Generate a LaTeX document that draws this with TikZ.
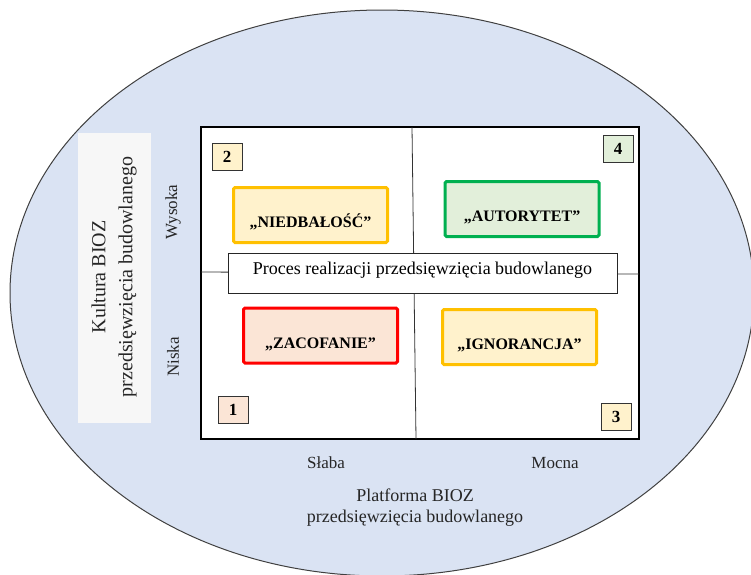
\documentclass[tikz,border=0pt]{standalone}
\usepackage{fontspec}
\setmainfont{Liberation Serif}
\usetikzlibrary{positioning}

\definecolor{ovalblue}{HTML}{DAE3F3}
\definecolor{warnline}{HTML}{FFC000}
\definecolor{warnfill}{HTML}{FFF2CC}
\definecolor{goodline}{HTML}{00B050}
\definecolor{goodfill}{HTML}{E2EFDA}
\definecolor{badline}{HTML}{FF0000}
\definecolor{badfill}{HTML}{FBE5D6}
\definecolor{sidegray}{HTML}{F7F7F7}

\tikzset{%
  % Specifications for style of nodes:
       quad/.style = {rectangle, rounded corners=1.5pt, line width=3pt,
                      minimum width=154pt, minimum height=55pt,
                      text height=25pt, text depth=0pt,
                      font=\fontsize{16}{18}\selectfont\bfseries},
   quadwarn/.style = {quad, draw=warnline, fill=warnfill},
   quadgood/.style = {quad, draw=goodline, fill=goodfill},
    quadbad/.style = {quad, draw=badline, fill=badfill},
     numbox/.style = {rectangle, draw=black!80, line width=0.8pt,
                      minimum width=30pt, minimum height=27pt, inner sep=0pt,
                      font=\fontsize{17}{18}\selectfont\bfseries},
  axislabel/.style = {font=\fontsize{17}{20}\selectfont, text=black!85},
}

\begin{document}
\begin{tikzpicture}[x=1pt, y=-1pt]
  \useasboundingbox (0,0) rectangle (751,574);
  \clip (0,0) rectangle (751,574);

  % Background oval
  \draw[fill=ovalblue, draw=black!75, line width=1pt]
    (382,293) ellipse [x radius=372pt, y radius=283pt];

  % Side caption (rotated)
  \fill[sidegray] (78,133) rectangle (151,423);
  \node (culture) [rotate=90, align=center, text=black!85,
                   font=\fontsize{20}{27}\selectfont]
    at (114,277) {Kultura BIOZ\\przedsięwzięcia budowlanego};

  % Matrix frame and quadrant dividers
  \draw[fill=white, line width=1.2pt] (201,127) rectangle (639,439);
  \draw[line width=0.8pt, black!80] (412,127) -- (416,439);
  \draw[line width=0.8pt, black!80] (201,272) -- (639,274);

  % Specification of nodes (position, etc.)
  \node (process) [rectangle, draw=black!85, fill=white, line width=1pt,
                   minimum width=389pt, minimum height=40pt,
                   text height=7pt, text depth=5pt,
                   font=\fontsize{18}{20}\selectfont]
    at (422.5,273) {Proces realizacji przedsięwzięcia budowlanego};

  \node (neglect)   [quadwarn] at (310.5,215)   {„NIEDBAŁOŚĆ”};
  \node (authority) [quadgood] at (522,209)     {„AUTORYTET”};
  \node (backward)  [quadbad]  at (320.5,335.5) {„ZACOFANIE”};
  \node (ignorance) [quadwarn] at (519.5,337)   {„IGNORANCJA”};

  \node (n2) [numbox, fill=warnfill] at (227,156.5) {2};
  \node (n4) [numbox, fill=goodfill] at (618,149)   {4};
  \node (n1) [numbox, fill=badfill]  at (233,410)   {1};
  \node (n3) [numbox, fill=warnfill] at (616,416.5) {3};

  % Axis labels
  \node (high)   [axislabel, rotate=90] at (173,212) {Wysoka};
  \node (low)    [axislabel, rotate=90] at (173,357) {Niska};
  \node (weak)   [axislabel] at (326,463) {Słaba};
  \node (strong) [axislabel] at (555,463) {Mocna};
  \node (platform) [align=center, text=black!85,
                    font=\fontsize{18}{21}\selectfont]
    at (415,508) {Platforma BIOZ\\przedsięwzięcia budowlanego};
\end{tikzpicture}
\end{document}
